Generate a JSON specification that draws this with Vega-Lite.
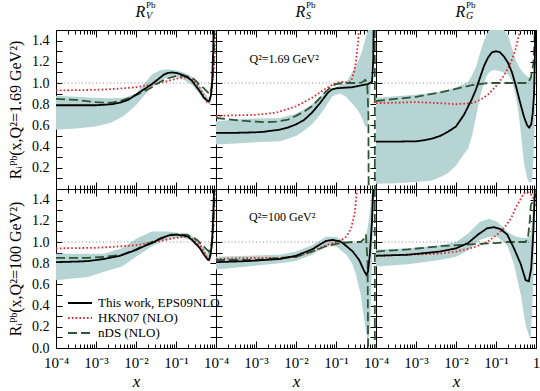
{
"$schema": "https://vega.github.io/schema/vega-lite/v6.json",
"padding": {"left": 6, "top": 0, "right": 0, "bottom": 0},
"config": {"font": "Liberation Serif", "view": {"stroke": "black", "strokeWidth": 1}, "axis": {"tickColor": "black", "labelColor": "black", "titleColor": "black", "tickWidth": 1, "domain": false, "grid": false}},
"datasets": {
"cur": [
{"r":"t","c":"V","s":"H","g":1,"x":0.0001,"y":0.93},{"r":"t","c":"V","s":"H","g":1,"x":0.001,"y":0.935},{"r":"t","c":"V","s":"H","g":1,"x":0.00316,"y":0.945},{"r":"t","c":"V","s":"H","g":1,"x":0.01,"y":0.96},{"r":"t","c":"V","s":"H","g":1,"x":0.02,"y":0.98},{"r":"t","c":"V","s":"H","g":1,"x":0.0398,"y":1.0},{"r":"t","c":"V","s":"H","g":1,"x":0.0631,"y":1.02},{"r":"t","c":"V","s":"H","g":1,"x":0.1,"y":1.04},{"r":"t","c":"V","s":"H","g":1,"x":0.141,"y":1.05},{"r":"t","c":"V","s":"H","g":1,"x":0.2,"y":1.05},{"r":"t","c":"V","s":"H","g":1,"x":0.251,"y":1.03},{"r":"t","c":"V","s":"H","g":1,"x":0.316,"y":1.0},{"r":"t","c":"V","s":"H","g":1,"x":0.398,"y":0.95},{"r":"t","c":"V","s":"H","g":1,"x":0.501,"y":0.88},{"r":"t","c":"V","s":"H","g":1,"x":0.603,"y":0.82},{"r":"t","c":"V","s":"H","g":1,"x":0.661,"y":0.81},{"r":"t","c":"V","s":"H","g":1,"x":0.741,"y":0.87},{"r":"t","c":"V","s":"H","g":1,"x":0.832,"y":1.0},{"r":"t","c":"V","s":"H","g":1,"x":0.891,"y":1.15},{"r":"t","c":"V","s":"H","g":1,"x":0.933,"y":1.3},{"r":"t","c":"V","s":"H","g":1,"x":0.977,"y":1.6},
{"r":"t","c":"V","s":"N","g":1,"x":0.0001,"y":0.85},{"r":"t","c":"V","s":"N","g":1,"x":0.000316,"y":0.84},{"r":"t","c":"V","s":"N","g":1,"x":0.001,"y":0.82},{"r":"t","c":"V","s":"N","g":1,"x":0.00158,"y":0.815},{"r":"t","c":"V","s":"N","g":1,"x":0.00251,"y":0.815},{"r":"t","c":"V","s":"N","g":1,"x":0.00398,"y":0.83},{"r":"t","c":"V","s":"N","g":1,"x":0.00631,"y":0.855},{"r":"t","c":"V","s":"N","g":1,"x":0.01,"y":0.885},{"r":"t","c":"V","s":"N","g":1,"x":0.0158,"y":0.92},{"r":"t","c":"V","s":"N","g":1,"x":0.0251,"y":0.96},{"r":"t","c":"V","s":"N","g":1,"x":0.0398,"y":1.01},{"r":"t","c":"V","s":"N","g":1,"x":0.0631,"y":1.045},{"r":"t","c":"V","s":"N","g":1,"x":0.1,"y":1.065},{"r":"t","c":"V","s":"N","g":1,"x":0.158,"y":1.07},{"r":"t","c":"V","s":"N","g":1,"x":0.251,"y":1.05},{"r":"t","c":"V","s":"N","g":1,"x":0.316,"y":1.02},{"r":"t","c":"V","s":"N","g":1,"x":0.398,"y":0.98},{"r":"t","c":"V","s":"N","g":1,"x":0.501,"y":0.95},{"r":"t","c":"V","s":"N","g":1,"x":0.631,"y":0.91},{"r":"t","c":"V","s":"N","g":1,"x":0.692,"y":0.9},{"r":"t","c":"V","s":"N","g":1,"x":0.759,"y":0.94},{"r":"t","c":"V","s":"N","g":1,"x":0.832,"y":1.05},{"r":"t","c":"V","s":"N","g":1,"x":0.891,"y":1.3},{"r":"t","c":"V","s":"N","g":1,"x":0.955,"y":2.0},
{"r":"t","c":"V","s":"E","g":1,"x":0.0001,"y":0.79},{"r":"t","c":"V","s":"E","g":1,"x":0.000316,"y":0.79},{"r":"t","c":"V","s":"E","g":1,"x":0.001,"y":0.79},{"r":"t","c":"V","s":"E","g":1,"x":0.00158,"y":0.795},{"r":"t","c":"V","s":"E","g":1,"x":0.00251,"y":0.8},{"r":"t","c":"V","s":"E","g":1,"x":0.00398,"y":0.815},{"r":"t","c":"V","s":"E","g":1,"x":0.00631,"y":0.84},{"r":"t","c":"V","s":"E","g":1,"x":0.01,"y":0.89},{"r":"t","c":"V","s":"E","g":1,"x":0.0158,"y":0.94},{"r":"t","c":"V","s":"E","g":1,"x":0.0251,"y":0.99},{"r":"t","c":"V","s":"E","g":1,"x":0.0398,"y":1.05},{"r":"t","c":"V","s":"E","g":1,"x":0.0501,"y":1.08},{"r":"t","c":"V","s":"E","g":1,"x":0.0631,"y":1.095},{"r":"t","c":"V","s":"E","g":1,"x":0.0794,"y":1.1},{"r":"t","c":"V","s":"E","g":1,"x":0.1,"y":1.095},{"r":"t","c":"V","s":"E","g":1,"x":0.126,"y":1.085},{"r":"t","c":"V","s":"E","g":1,"x":0.158,"y":1.07},{"r":"t","c":"V","s":"E","g":1,"x":0.2,"y":1.05},{"r":"t","c":"V","s":"E","g":1,"x":0.251,"y":1.02},{"r":"t","c":"V","s":"E","g":1,"x":0.316,"y":0.97},{"r":"t","c":"V","s":"E","g":1,"x":0.398,"y":0.92},{"r":"t","c":"V","s":"E","g":1,"x":0.501,"y":0.86},{"r":"t","c":"V","s":"E","g":1,"x":0.631,"y":0.83},{"r":"t","c":"V","s":"E","g":1,"x":0.692,"y":0.835},{"r":"t","c":"V","s":"E","g":1,"x":0.741,"y":0.88},{"r":"t","c":"V","s":"E","g":1,"x":0.794,"y":0.98},{"r":"t","c":"V","s":"E","g":1,"x":0.851,"y":1.3},{"r":"t","c":"V","s":"E","g":1,"x":0.912,"y":2.0},

{"r":"t","c":"S","s":"H","g":1,"x":0.0001,"y":0.69},{"r":"t","c":"S","s":"H","g":1,"x":0.000316,"y":0.695},{"r":"t","c":"S","s":"H","g":1,"x":0.001,"y":0.7},{"r":"t","c":"S","s":"H","g":1,"x":0.00316,"y":0.72},{"r":"t","c":"S","s":"H","g":1,"x":0.01,"y":0.78},{"r":"t","c":"S","s":"H","g":1,"x":0.0158,"y":0.82},{"r":"t","c":"S","s":"H","g":1,"x":0.0251,"y":0.86},{"r":"t","c":"S","s":"H","g":1,"x":0.0398,"y":0.91},{"r":"t","c":"S","s":"H","g":1,"x":0.0562,"y":0.95},{"r":"t","c":"S","s":"H","g":1,"x":0.0794,"y":0.98},{"r":"t","c":"S","s":"H","g":1,"x":0.1,"y":1.0},{"r":"t","c":"S","s":"H","g":1,"x":0.141,"y":1.01},{"r":"t","c":"S","s":"H","g":1,"x":0.2,"y":1.005},{"r":"t","c":"S","s":"H","g":1,"x":0.24,"y":1.02},{"r":"t","c":"S","s":"H","g":1,"x":0.282,"y":1.1},{"r":"t","c":"S","s":"H","g":1,"x":0.316,"y":1.2},{"r":"t","c":"S","s":"H","g":1,"x":0.355,"y":1.39},{"r":"t","c":"S","s":"H","g":1,"x":0.38,"y":1.55},
{"r":"t","c":"S","s":"N","g":1,"x":0.0001,"y":0.67},{"r":"t","c":"S","s":"N","g":1,"x":0.000316,"y":0.65},{"r":"t","c":"S","s":"N","g":1,"x":0.001,"y":0.635},{"r":"t","c":"S","s":"N","g":1,"x":0.00158,"y":0.63},{"r":"t","c":"S","s":"N","g":1,"x":0.00316,"y":0.635},{"r":"t","c":"S","s":"N","g":1,"x":0.00631,"y":0.655},{"r":"t","c":"S","s":"N","g":1,"x":0.01,"y":0.69},{"r":"t","c":"S","s":"N","g":1,"x":0.0158,"y":0.73},{"r":"t","c":"S","s":"N","g":1,"x":0.0251,"y":0.78},{"r":"t","c":"S","s":"N","g":1,"x":0.0398,"y":0.86},{"r":"t","c":"S","s":"N","g":1,"x":0.0562,"y":0.92},{"r":"t","c":"S","s":"N","g":1,"x":0.0794,"y":0.97},{"r":"t","c":"S","s":"N","g":1,"x":0.1,"y":0.99},{"r":"t","c":"S","s":"N","g":1,"x":0.158,"y":1.0},{"r":"t","c":"S","s":"N","g":1,"x":0.316,"y":1.0},{"r":"t","c":"S","s":"N","g":1,"x":0.447,"y":1.005},{"r":"t","c":"S","s":"N","g":1,"x":0.537,"y":1.03},{"r":"t","c":"S","s":"N","g":1,"x":0.603,"y":1.0},{"r":"t","c":"S","s":"N","g":1,"x":0.646,"y":0.7},{"r":"t","c":"S","s":"N","g":1,"x":0.661,"y":-0.5},
{"r":"t","c":"S","s":"N","g":2,"x":0.93,"y":2.0},{"r":"t","c":"S","s":"N","g":2,"x":0.94,"y":-1.0},
{"r":"t","c":"S","s":"E","g":1,"x":0.0001,"y":0.53},{"r":"t","c":"S","s":"E","g":1,"x":0.000316,"y":0.53},{"r":"t","c":"S","s":"E","g":1,"x":0.001,"y":0.535},{"r":"t","c":"S","s":"E","g":1,"x":0.00158,"y":0.54},{"r":"t","c":"S","s":"E","g":1,"x":0.00398,"y":0.56},{"r":"t","c":"S","s":"E","g":1,"x":0.00631,"y":0.58},{"r":"t","c":"S","s":"E","g":1,"x":0.01,"y":0.61},{"r":"t","c":"S","s":"E","g":1,"x":0.0158,"y":0.65},{"r":"t","c":"S","s":"E","g":1,"x":0.0251,"y":0.72},{"r":"t","c":"S","s":"E","g":1,"x":0.0398,"y":0.81},{"r":"t","c":"S","s":"E","g":1,"x":0.0501,"y":0.86},{"r":"t","c":"S","s":"E","g":1,"x":0.0631,"y":0.91},{"r":"t","c":"S","s":"E","g":1,"x":0.0794,"y":0.94},{"r":"t","c":"S","s":"E","g":1,"x":0.1,"y":0.95},{"r":"t","c":"S","s":"E","g":1,"x":0.158,"y":0.955},{"r":"t","c":"S","s":"E","g":1,"x":0.251,"y":0.96},{"r":"t","c":"S","s":"E","g":1,"x":0.398,"y":0.975},{"r":"t","c":"S","s":"E","g":1,"x":0.631,"y":0.99},{"r":"t","c":"S","s":"E","g":1,"x":0.794,"y":1.01},{"r":"t","c":"S","s":"E","g":1,"x":0.851,"y":1.2},{"r":"t","c":"S","s":"E","g":1,"x":0.891,"y":1.8},

{"r":"t","c":"G","s":"H","g":1,"x":0.0001,"y":0.81},{"r":"t","c":"G","s":"H","g":1,"x":0.001,"y":0.82},{"r":"t","c":"G","s":"H","g":1,"x":0.00398,"y":0.81},{"r":"t","c":"G","s":"H","g":1,"x":0.01,"y":0.8},{"r":"t","c":"G","s":"H","g":1,"x":0.0251,"y":0.81},{"r":"t","c":"G","s":"H","g":1,"x":0.0398,"y":0.84},{"r":"t","c":"G","s":"H","g":1,"x":0.0631,"y":0.89},{"r":"t","c":"G","s":"H","g":1,"x":0.1,"y":0.97},{"r":"t","c":"G","s":"H","g":1,"x":0.126,"y":1.02},{"r":"t","c":"G","s":"H","g":1,"x":0.158,"y":1.07},{"r":"t","c":"G","s":"H","g":1,"x":0.2,"y":1.14},{"r":"t","c":"G","s":"H","g":1,"x":0.251,"y":1.22},{"r":"t","c":"G","s":"H","g":1,"x":0.316,"y":1.33},{"r":"t","c":"G","s":"H","g":1,"x":0.355,"y":1.42},{"r":"t","c":"G","s":"H","g":1,"x":0.417,"y":1.52},{"r":"t","c":"G","s":"H","g":1,"x":0.501,"y":1.7},
{"r":"t","c":"G","s":"N","g":1,"x":0.0001,"y":0.83},{"r":"t","c":"G","s":"N","g":1,"x":0.001,"y":0.87},{"r":"t","c":"G","s":"N","g":1,"x":0.00398,"y":0.91},{"r":"t","c":"G","s":"N","g":1,"x":0.01,"y":0.945},{"r":"t","c":"G","s":"N","g":1,"x":0.0251,"y":0.98},{"r":"t","c":"G","s":"N","g":1,"x":0.0631,"y":1.0},{"r":"t","c":"G","s":"N","g":1,"x":0.251,"y":1.0},{"r":"t","c":"G","s":"N","g":1,"x":0.631,"y":1.0},{"r":"t","c":"G","s":"N","g":1,"x":0.741,"y":1.05},{"r":"t","c":"G","s":"N","g":1,"x":0.851,"y":1.17},{"r":"t","c":"G","s":"N","g":1,"x":0.912,"y":1.35},{"r":"t","c":"G","s":"N","g":1,"x":0.955,"y":1.7},
{"r":"t","c":"G","s":"E","g":1,"x":0.0001,"y":0.447},{"r":"t","c":"G","s":"E","g":1,"x":0.000316,"y":0.447},{"r":"t","c":"G","s":"E","g":1,"x":0.001,"y":0.45},{"r":"t","c":"G","s":"E","g":1,"x":0.00158,"y":0.46},{"r":"t","c":"G","s":"E","g":1,"x":0.00251,"y":0.475},{"r":"t","c":"G","s":"E","g":1,"x":0.00398,"y":0.5},{"r":"t","c":"G","s":"E","g":1,"x":0.00631,"y":0.54},{"r":"t","c":"G","s":"E","g":1,"x":0.01,"y":0.59},{"r":"t","c":"G","s":"E","g":1,"x":0.0158,"y":0.7},{"r":"t","c":"G","s":"E","g":1,"x":0.0251,"y":0.85},{"r":"t","c":"G","s":"E","g":1,"x":0.0316,"y":0.94},{"r":"t","c":"G","s":"E","g":1,"x":0.0398,"y":1.05},{"r":"t","c":"G","s":"E","g":1,"x":0.0501,"y":1.16},{"r":"t","c":"G","s":"E","g":1,"x":0.0631,"y":1.24},{"r":"t","c":"G","s":"E","g":1,"x":0.0794,"y":1.29},{"r":"t","c":"G","s":"E","g":1,"x":0.1,"y":1.3},{"r":"t","c":"G","s":"E","g":1,"x":0.126,"y":1.29},{"r":"t","c":"G","s":"E","g":1,"x":0.158,"y":1.25},{"r":"t","c":"G","s":"E","g":1,"x":0.2,"y":1.19},{"r":"t","c":"G","s":"E","g":1,"x":0.251,"y":1.1},{"r":"t","c":"G","s":"E","g":1,"x":0.316,"y":0.97},{"r":"t","c":"G","s":"E","g":1,"x":0.398,"y":0.82},{"r":"t","c":"G","s":"E","g":1,"x":0.501,"y":0.68},{"r":"t","c":"G","s":"E","g":1,"x":0.603,"y":0.6},{"r":"t","c":"G","s":"E","g":1,"x":0.676,"y":0.58},{"r":"t","c":"G","s":"E","g":1,"x":0.759,"y":0.61},{"r":"t","c":"G","s":"E","g":1,"x":0.832,"y":0.72},{"r":"t","c":"G","s":"E","g":1,"x":0.891,"y":0.89},{"r":"t","c":"G","s":"E","g":1,"x":0.933,"y":1.2},{"r":"t","c":"G","s":"E","g":1,"x":0.977,"y":1.8},

{"r":"b","c":"V","s":"H","g":1,"x":0.0001,"y":0.94},{"r":"b","c":"V","s":"H","g":1,"x":0.001,"y":0.945},{"r":"b","c":"V","s":"H","g":1,"x":0.00447,"y":0.96},{"r":"b","c":"V","s":"H","g":1,"x":0.01,"y":0.97},{"r":"b","c":"V","s":"H","g":1,"x":0.0282,"y":1.0},{"r":"b","c":"V","s":"H","g":1,"x":0.0741,"y":1.03},{"r":"b","c":"V","s":"H","g":1,"x":0.158,"y":1.05},{"r":"b","c":"V","s":"H","g":1,"x":0.2,"y":1.045},{"r":"b","c":"V","s":"H","g":1,"x":0.282,"y":1.02},{"r":"b","c":"V","s":"H","g":1,"x":0.398,"y":0.97},{"r":"b","c":"V","s":"H","g":1,"x":0.501,"y":0.91},{"r":"b","c":"V","s":"H","g":1,"x":0.631,"y":0.83},{"r":"b","c":"V","s":"H","g":1,"x":0.676,"y":0.82},{"r":"b","c":"V","s":"H","g":1,"x":0.741,"y":0.88},{"r":"b","c":"V","s":"H","g":1,"x":0.832,"y":1.05},{"r":"b","c":"V","s":"H","g":1,"x":0.891,"y":1.22},{"r":"b","c":"V","s":"H","g":1,"x":0.955,"y":1.6},
{"r":"b","c":"V","s":"N","g":1,"x":0.0001,"y":0.85},{"r":"b","c":"V","s":"N","g":1,"x":0.000631,"y":0.85},{"r":"b","c":"V","s":"N","g":1,"x":0.00158,"y":0.86},{"r":"b","c":"V","s":"N","g":1,"x":0.00447,"y":0.88},{"r":"b","c":"V","s":"N","g":1,"x":0.01,"y":0.93},{"r":"b","c":"V","s":"N","g":1,"x":0.0282,"y":1.01},{"r":"b","c":"V","s":"N","g":1,"x":0.0741,"y":1.07},{"r":"b","c":"V","s":"N","g":1,"x":0.191,"y":1.07},{"r":"b","c":"V","s":"N","g":1,"x":0.339,"y":1.02},{"r":"b","c":"V","s":"N","g":1,"x":0.55,"y":0.94},{"r":"b","c":"V","s":"N","g":1,"x":0.661,"y":0.91},{"r":"b","c":"V","s":"N","g":1,"x":0.794,"y":1.0},{"r":"b","c":"V","s":"N","g":1,"x":0.871,"y":1.2},{"r":"b","c":"V","s":"N","g":1,"x":0.933,"y":1.6},
{"r":"b","c":"V","s":"E","g":1,"x":0.0001,"y":0.81},{"r":"b","c":"V","s":"E","g":1,"x":0.000316,"y":0.815},{"r":"b","c":"V","s":"E","g":1,"x":0.000631,"y":0.82},{"r":"b","c":"V","s":"E","g":1,"x":0.00158,"y":0.84},{"r":"b","c":"V","s":"E","g":1,"x":0.00398,"y":0.87},{"r":"b","c":"V","s":"E","g":1,"x":0.01,"y":0.925},{"r":"b","c":"V","s":"E","g":1,"x":0.0158,"y":0.96},{"r":"b","c":"V","s":"E","g":1,"x":0.0251,"y":0.99},{"r":"b","c":"V","s":"E","g":1,"x":0.0398,"y":1.03},{"r":"b","c":"V","s":"E","g":1,"x":0.0631,"y":1.06},{"r":"b","c":"V","s":"E","g":1,"x":0.1,"y":1.07},{"r":"b","c":"V","s":"E","g":1,"x":0.158,"y":1.06},{"r":"b","c":"V","s":"E","g":1,"x":0.2,"y":1.05},{"r":"b","c":"V","s":"E","g":1,"x":0.251,"y":1.02},{"r":"b","c":"V","s":"E","g":1,"x":0.316,"y":0.98},{"r":"b","c":"V","s":"E","g":1,"x":0.398,"y":0.94},{"r":"b","c":"V","s":"E","g":1,"x":0.501,"y":0.88},{"r":"b","c":"V","s":"E","g":1,"x":0.603,"y":0.84},{"r":"b","c":"V","s":"E","g":1,"x":0.661,"y":0.83},{"r":"b","c":"V","s":"E","g":1,"x":0.708,"y":0.86},{"r":"b","c":"V","s":"E","g":1,"x":0.794,"y":0.98},{"r":"b","c":"V","s":"E","g":1,"x":0.832,"y":1.16},{"r":"b","c":"V","s":"E","g":1,"x":0.891,"y":1.47},{"r":"b","c":"V","s":"E","g":1,"x":0.933,"y":1.9},

{"r":"b","c":"S","s":"H","g":1,"x":0.0001,"y":0.84},{"r":"b","c":"S","s":"H","g":1,"x":0.001,"y":0.85},{"r":"b","c":"S","s":"H","g":1,"x":0.00398,"y":0.85},{"r":"b","c":"S","s":"H","g":1,"x":0.01,"y":0.86},{"r":"b","c":"S","s":"H","g":1,"x":0.0251,"y":0.91},{"r":"b","c":"S","s":"H","g":1,"x":0.0562,"y":0.97},{"r":"b","c":"S","s":"H","g":1,"x":0.126,"y":1.01},{"r":"b","c":"S","s":"H","g":1,"x":0.182,"y":1.05},{"r":"b","c":"S","s":"H","g":1,"x":0.24,"y":1.13},{"r":"b","c":"S","s":"H","g":1,"x":0.295,"y":1.28},{"r":"b","c":"S","s":"H","g":1,"x":0.331,"y":1.47},{"r":"b","c":"S","s":"H","g":1,"x":0.355,"y":1.6},
{"r":"b","c":"S","s":"N","g":1,"x":0.0001,"y":0.83},{"r":"b","c":"S","s":"N","g":1,"x":0.001,"y":0.83},{"r":"b","c":"S","s":"N","g":1,"x":0.00398,"y":0.85},{"r":"b","c":"S","s":"N","g":1,"x":0.01,"y":0.86},{"r":"b","c":"S","s":"N","g":1,"x":0.0251,"y":0.91},{"r":"b","c":"S","s":"N","g":1,"x":0.0562,"y":0.96},{"r":"b","c":"S","s":"N","g":1,"x":0.126,"y":0.99},{"r":"b","c":"S","s":"N","g":1,"x":0.263,"y":1.0},{"r":"b","c":"S","s":"N","g":1,"x":0.417,"y":1.0},{"r":"b","c":"S","s":"N","g":1,"x":0.501,"y":1.03},{"r":"b","c":"S","s":"N","g":1,"x":0.562,"y":1.07},{"r":"b","c":"S","s":"N","g":1,"x":0.617,"y":0.8},{"r":"b","c":"S","s":"N","g":1,"x":0.646,"y":-0.5},
{"r":"b","c":"S","s":"N","g":2,"x":0.93,"y":2.0},{"r":"b","c":"S","s":"N","g":2,"x":0.94,"y":-1.0},
{"r":"b","c":"S","s":"E","g":1,"x":0.0001,"y":0.81},{"r":"b","c":"S","s":"E","g":1,"x":0.000631,"y":0.82},{"r":"b","c":"S","s":"E","g":1,"x":0.00398,"y":0.84},{"r":"b","c":"S","s":"E","g":1,"x":0.01,"y":0.87},{"r":"b","c":"S","s":"E","g":1,"x":0.0251,"y":0.93},{"r":"b","c":"S","s":"E","g":1,"x":0.0562,"y":1.01},{"r":"b","c":"S","s":"E","g":1,"x":0.0832,"y":1.02},{"r":"b","c":"S","s":"E","g":1,"x":0.126,"y":1.005},{"r":"b","c":"S","s":"E","g":1,"x":0.148,"y":0.99},{"r":"b","c":"S","s":"E","g":1,"x":0.263,"y":0.91},{"r":"b","c":"S","s":"E","g":1,"x":0.38,"y":0.83},{"r":"b","c":"S","s":"E","g":1,"x":0.501,"y":0.73},{"r":"b","c":"S","s":"E","g":1,"x":0.575,"y":0.69},{"r":"b","c":"S","s":"E","g":1,"x":0.631,"y":0.72},{"r":"b","c":"S","s":"E","g":1,"x":0.708,"y":0.9},{"r":"b","c":"S","s":"E","g":1,"x":0.794,"y":1.2},{"r":"b","c":"S","s":"E","g":1,"x":0.871,"y":1.6},

{"r":"b","c":"G","s":"H","g":1,"x":0.0001,"y":0.87},{"r":"b","c":"G","s":"H","g":1,"x":0.000631,"y":0.88},{"r":"b","c":"G","s":"H","g":1,"x":0.00398,"y":0.89},{"r":"b","c":"G","s":"H","g":1,"x":0.01,"y":0.91},{"r":"b","c":"G","s":"H","g":1,"x":0.0282,"y":0.95},{"r":"b","c":"G","s":"H","g":1,"x":0.0603,"y":1.0},{"r":"b","c":"G","s":"H","g":1,"x":0.107,"y":1.07},{"r":"b","c":"G","s":"H","g":1,"x":0.158,"y":1.13},{"r":"b","c":"G","s":"H","g":1,"x":0.234,"y":1.22},{"r":"b","c":"G","s":"H","g":1,"x":0.339,"y":1.35},{"r":"b","c":"G","s":"H","g":1,"x":0.501,"y":1.46},{"r":"b","c":"G","s":"H","g":1,"x":0.631,"y":1.47},{"r":"b","c":"G","s":"H","g":1,"x":0.794,"y":1.44},{"r":"b","c":"G","s":"H","g":1,"x":0.891,"y":1.4},{"r":"b","c":"G","s":"H","g":1,"x":1.0,"y":1.33},
{"r":"b","c":"G","s":"N","g":1,"x":0.0001,"y":0.91},{"r":"b","c":"G","s":"N","g":1,"x":0.000631,"y":0.93},{"r":"b","c":"G","s":"N","g":1,"x":0.00398,"y":0.96},{"r":"b","c":"G","s":"N","g":1,"x":0.0282,"y":0.98},{"r":"b","c":"G","s":"N","g":1,"x":0.1,"y":0.99},{"r":"b","c":"G","s":"N","g":1,"x":0.2,"y":1.0},{"r":"b","c":"G","s":"N","g":1,"x":0.55,"y":1.0},{"r":"b","c":"G","s":"N","g":1,"x":0.631,"y":1.04},{"r":"b","c":"G","s":"N","g":1,"x":0.708,"y":1.22},{"r":"b","c":"G","s":"N","g":1,"x":0.741,"y":1.35},{"r":"b","c":"G","s":"N","g":1,"x":0.891,"y":1.4},{"r":"b","c":"G","s":"N","g":1,"x":1.0,"y":1.45},
{"r":"b","c":"G","s":"E","g":1,"x":0.0001,"y":0.87},{"r":"b","c":"G","s":"E","g":1,"x":0.000631,"y":0.88},{"r":"b","c":"G","s":"E","g":1,"x":0.00398,"y":0.91},{"r":"b","c":"G","s":"E","g":1,"x":0.01,"y":0.94},{"r":"b","c":"G","s":"E","g":1,"x":0.02,"y":0.99},{"r":"b","c":"G","s":"E","g":1,"x":0.0355,"y":1.07},{"r":"b","c":"G","s":"E","g":1,"x":0.0603,"y":1.13},{"r":"b","c":"G","s":"E","g":1,"x":0.0891,"y":1.14},{"r":"b","c":"G","s":"E","g":1,"x":0.132,"y":1.12},{"r":"b","c":"G","s":"E","g":1,"x":0.191,"y":1.07},{"r":"b","c":"G","s":"E","g":1,"x":0.282,"y":0.94},{"r":"b","c":"G","s":"E","g":1,"x":0.417,"y":0.79},{"r":"b","c":"G","s":"E","g":1,"x":0.55,"y":0.64},{"r":"b","c":"G","s":"E","g":1,"x":0.661,"y":0.63},{"r":"b","c":"G","s":"E","g":1,"x":0.759,"y":0.75},{"r":"b","c":"G","s":"E","g":1,"x":0.851,"y":1.07},{"r":"b","c":"G","s":"E","g":1,"x":0.933,"y":1.47},{"r":"b","c":"G","s":"E","g":1,"x":0.977,"y":1.9}
],
"bd": [
{"r":"t","c":"V","x":0.0001,"lo":0.56,"hi":0.88},{"r":"t","c":"V","x":0.000316,"lo":0.57,"hi":0.87},{"r":"t","c":"V","x":0.001,"lo":0.59,"hi":0.86},{"r":"t","c":"V","x":0.00251,"lo":0.63,"hi":0.855},{"r":"t","c":"V","x":0.00501,"lo":0.69,"hi":0.86},{"r":"t","c":"V","x":0.01,"lo":0.79,"hi":0.9},{"r":"t","c":"V","x":0.0158,"lo":0.88,"hi":0.99},{"r":"t","c":"V","x":0.0251,"lo":0.96,"hi":1.08},{"r":"t","c":"V","x":0.0398,"lo":1.02,"hi":1.12},{"r":"t","c":"V","x":0.0631,"lo":1.06,"hi":1.13},{"r":"t","c":"V","x":0.1,"lo":1.06,"hi":1.12},{"r":"t","c":"V","x":0.158,"lo":1.03,"hi":1.1},{"r":"t","c":"V","x":0.251,"lo":0.98,"hi":1.06},{"r":"t","c":"V","x":0.398,"lo":0.89,"hi":0.97},{"r":"t","c":"V","x":0.501,"lo":0.84,"hi":0.91},{"r":"t","c":"V","x":0.631,"lo":0.8,"hi":0.86},{"r":"t","c":"V","x":0.708,"lo":0.81,"hi":0.88},{"r":"t","c":"V","x":0.794,"lo":0.88,"hi":1.02},{"r":"t","c":"V","x":0.851,"lo":1.15,"hi":1.45},{"r":"t","c":"V","x":0.912,"lo":1.6,"hi":2.2},
{"r":"t","c":"S","x":0.0001,"lo":0.42,"hi":0.64},{"r":"t","c":"S","x":0.000316,"lo":0.43,"hi":0.655},{"r":"t","c":"S","x":0.001,"lo":0.44,"hi":0.665},{"r":"t","c":"S","x":0.00398,"lo":0.45,"hi":0.67},{"r":"t","c":"S","x":0.01,"lo":0.5,"hi":0.71},{"r":"t","c":"S","x":0.0158,"lo":0.55,"hi":0.75},{"r":"t","c":"S","x":0.0251,"lo":0.61,"hi":0.8},{"r":"t","c":"S","x":0.0398,"lo":0.7,"hi":0.87},{"r":"t","c":"S","x":0.0562,"lo":0.78,"hi":0.91},{"r":"t","c":"S","x":0.0794,"lo":0.87,"hi":0.94},{"r":"t","c":"S","x":0.1,"lo":0.89,"hi":0.96},{"r":"t","c":"S","x":0.126,"lo":0.9,"hi":0.98},{"r":"t","c":"S","x":0.178,"lo":0.87,"hi":1.0},{"r":"t","c":"S","x":0.251,"lo":0.81,"hi":1.1},{"r":"t","c":"S","x":0.355,"lo":0.74,"hi":1.2},{"r":"t","c":"S","x":0.447,"lo":0.67,"hi":1.3},{"r":"t","c":"S","x":0.525,"lo":0.6,"hi":1.4},{"r":"t","c":"S","x":0.575,"lo":0.58,"hi":1.45},{"r":"t","c":"S","x":0.631,"lo":0.62,"hi":1.5},{"r":"t","c":"S","x":0.708,"lo":0.85,"hi":1.6},{"r":"t","c":"S","x":0.794,"lo":1.2,"hi":1.8},{"r":"t","c":"S","x":0.891,"lo":1.6,"hi":2.0},
{"r":"t","c":"G","x":0.0001,"lo":0.05,"hi":0.86},{"r":"t","c":"G","x":0.000316,"lo":0.055,"hi":0.875},{"r":"t","c":"G","x":0.001,"lo":0.065,"hi":0.89},{"r":"t","c":"G","x":0.00251,"lo":0.08,"hi":0.905},{"r":"t","c":"G","x":0.00398,"lo":0.11,"hi":0.92},{"r":"t","c":"G","x":0.00631,"lo":0.15,"hi":0.935},{"r":"t","c":"G","x":0.01,"lo":0.22,"hi":0.96},{"r":"t","c":"G","x":0.0158,"lo":0.33,"hi":0.99},{"r":"t","c":"G","x":0.02,"lo":0.38,"hi":1.01},{"r":"t","c":"G","x":0.0251,"lo":0.5,"hi":1.07},{"r":"t","c":"G","x":0.0316,"lo":0.68,"hi":1.15},{"r":"t","c":"G","x":0.0398,"lo":0.87,"hi":1.28},{"r":"t","c":"G","x":0.0501,"lo":1.0,"hi":1.4},{"r":"t","c":"G","x":0.0631,"lo":1.09,"hi":1.48},{"r":"t","c":"G","x":0.0794,"lo":1.12,"hi":1.53},{"r":"t","c":"G","x":0.1,"lo":1.12,"hi":1.55},{"r":"t","c":"G","x":0.126,"lo":1.11,"hi":1.54},{"r":"t","c":"G","x":0.158,"lo":1.1,"hi":1.5},{"r":"t","c":"G","x":0.2,"lo":1.08,"hi":1.45},{"r":"t","c":"G","x":0.251,"lo":1.02,"hi":1.33},{"r":"t","c":"G","x":0.316,"lo":0.86,"hi":1.21},{"r":"t","c":"G","x":0.355,"lo":0.75,"hi":1.17},{"r":"t","c":"G","x":0.398,"lo":0.6,"hi":1.14},{"r":"t","c":"G","x":0.447,"lo":0.42,"hi":1.11},{"r":"t","c":"G","x":0.501,"lo":0.25,"hi":1.09},{"r":"t","c":"G","x":0.562,"lo":0.15,"hi":1.07},{"r":"t","c":"G","x":0.631,"lo":0.08,"hi":1.06},{"r":"t","c":"G","x":0.708,"lo":0.06,"hi":1.05},{"r":"t","c":"G","x":0.794,"lo":0.07,"hi":1.06},{"r":"t","c":"G","x":0.871,"lo":0.3,"hi":1.1},{"r":"t","c":"G","x":0.933,"lo":0.7,"hi":1.4},{"r":"t","c":"G","x":0.977,"lo":1.3,"hi":2.0},
{"r":"b","c":"V","x":0.0001,"lo":0.64,"hi":0.89},{"r":"b","c":"V","x":0.000631,"lo":0.67,"hi":0.89},{"r":"b","c":"V","x":0.00158,"lo":0.72,"hi":0.89},{"r":"b","c":"V","x":0.00447,"lo":0.77,"hi":0.94},{"r":"b","c":"V","x":0.01,"lo":0.86,"hi":1.03},{"r":"b","c":"V","x":0.0251,"lo":0.96,"hi":1.1},{"r":"b","c":"V","x":0.0631,"lo":1.03,"hi":1.1},{"r":"b","c":"V","x":0.158,"lo":1.04,"hi":1.08},{"r":"b","c":"V","x":0.316,"lo":0.99,"hi":1.04},{"r":"b","c":"V","x":0.501,"lo":0.89,"hi":0.94},{"r":"b","c":"V","x":0.603,"lo":0.83,"hi":0.89},{"r":"b","c":"V","x":0.708,"lo":0.84,"hi":0.92},{"r":"b","c":"V","x":0.794,"lo":0.95,"hi":1.02},{"r":"b","c":"V","x":0.871,"lo":1.3,"hi":1.4},{"r":"b","c":"V","x":0.933,"lo":1.8,"hi":1.9},
{"r":"b","c":"S","x":0.0001,"lo":0.74,"hi":0.86},{"r":"b","c":"S","x":0.000631,"lo":0.77,"hi":0.87},{"r":"b","c":"S","x":0.00398,"lo":0.8,"hi":0.88},{"r":"b","c":"S","x":0.01,"lo":0.82,"hi":0.91},{"r":"b","c":"S","x":0.0251,"lo":0.88,"hi":0.97},{"r":"b","c":"S","x":0.0562,"lo":0.96,"hi":1.05},{"r":"b","c":"S","x":0.1,"lo":0.96,"hi":1.05},{"r":"b","c":"S","x":0.182,"lo":0.88,"hi":1.0},{"r":"b","c":"S","x":0.251,"lo":0.8,"hi":0.99},{"r":"b","c":"S","x":0.316,"lo":0.69,"hi":0.99},{"r":"b","c":"S","x":0.417,"lo":0.5,"hi":1.0},{"r":"b","c":"S","x":0.501,"lo":0.28,"hi":1.01},{"r":"b","c":"S","x":0.562,"lo":0.15,"hi":1.07},{"r":"b","c":"S","x":0.631,"lo":0.06,"hi":1.15},{"r":"b","c":"S","x":0.708,"lo":0.2,"hi":1.3},{"r":"b","c":"S","x":0.794,"lo":0.8,"hi":1.5},{"r":"b","c":"S","x":0.891,"lo":1.5,"hi":2.0},
{"r":"b","c":"G","x":0.0001,"lo":0.77,"hi":0.93},{"r":"b","c":"G","x":0.000631,"lo":0.79,"hi":0.94},{"r":"b","c":"G","x":0.00398,"lo":0.83,"hi":0.97},{"r":"b","c":"G","x":0.01,"lo":0.86,"hi":1.0},{"r":"b","c":"G","x":0.02,"lo":0.92,"hi":1.08},{"r":"b","c":"G","x":0.0398,"lo":1.02,"hi":1.19},{"r":"b","c":"G","x":0.0676,"lo":1.05,"hi":1.22},{"r":"b","c":"G","x":0.107,"lo":1.05,"hi":1.19},{"r":"b","c":"G","x":0.191,"lo":0.97,"hi":1.1},{"r":"b","c":"G","x":0.282,"lo":0.79,"hi":1.06},{"r":"b","c":"G","x":0.417,"lo":0.5,"hi":1.04},{"r":"b","c":"G","x":0.55,"lo":0.22,"hi":1.04},{"r":"b","c":"G","x":0.661,"lo":0.12,"hi":1.04},{"r":"b","c":"G","x":0.741,"lo":0.1,"hi":1.07},{"r":"b","c":"G","x":0.851,"lo":0.6,"hi":1.35},{"r":"b","c":"G","x":0.933,"lo":1.3,"hi":1.7}
]
},
"columns": 3,
"spacing": 0,
"bounds": "flush",
"resolve": {"legend": {"color": "independent", "strokeDash": "independent"}},
"concat": [
 {"width": 160, "height": 159,
  "title": {"text": "Pb", "subtitle": "V", "fontSize": 9, "fontWeight": "normal", "subtitleFontSize": 10, "subtitleFontStyle": "italic", "subtitlePadding": 1, "anchor": "middle", "frame": "group", "align": "left", "dx": 10, "dy": 18, "offset": 0},
  "layer": [
  {"data": {"name": "bd"}, "transform": [{"filter": "datum.r=='t' && datum.c=='V'"}], "mark": {"type": "area", "color": "#b6d4d4", "clip": true},
   "encoding": {"x": {"field": "x", "type": "quantitative", "scale": {"type": "log", "domain": [0.0001, 1], "nice": false}, "axis": {"orient": "bottom", "values": [0.0001,0.0002,0.0003,0.0004,0.0005,0.0006,0.0007,0.0008,0.0009,0.001,0.002,0.003,0.004,0.005,0.006,0.007,0.008,0.009,0.01,0.02,0.03,0.04,0.05,0.06,0.07,0.08,0.09,0.1,0.2,0.3,0.4,0.5,0.6,0.7,0.8,0.9,1], "labels": false, "title": null, "tickSize": {"condition": {"test": "indexof([0.0001,0.001,0.01,0.1,1], datum.value) >= 0", "value": -7}, "value": -4}}},
     "y": {"field": "lo", "type": "quantitative", "scale": {"domain": [0, 1.5], "nice": false, "zero": false}, "axis": {"orient": "left", "values": [0,0.1,0.2,0.3,0.4,0.5,0.6,0.7,0.8,0.9,1,1.1,1.2,1.3,1.4,1.5], "tickSize": -6, "labelExpr": "datum.value > 0.05 && datum.value < 1.45 && round(datum.value*10) % 2 == 0 ? format(datum.value, '.1f') : ''", "labelFontSize": 14, "labelPadding": 13, "labelOverlap": false, "title": "Rᵢᴾᵇ(x,Q²=1.69 GeV²)", "titleFontSize": 16, "titleFontWeight": "normal", "titlePadding": 8}},
     "y2": {"field": "hi"}}},
  {"data": {"values": [{"ref": 1}]}, "mark": {"type": "rule", "color": "#8a8a8a", "strokeDash": [1, 2.5], "strokeWidth": 1}, "encoding": {"y": {"field": "ref", "type": "quantitative", "axis": null}}},
  {"data": {"name": "cur"}, "transform": [{"filter": "datum.r=='t' && datum.c=='V'"}], "mark": {"type": "line", "clip": true, "strokeWidth": 1.8},
   "encoding": {"x": {"field": "x", "type": "quantitative", "axis": {"orient": "top", "values": [0.0001,0.0002,0.0003,0.0004,0.0005,0.0006,0.0007,0.0008,0.0009,0.001,0.002,0.003,0.004,0.005,0.006,0.007,0.008,0.009,0.01,0.02,0.03,0.04,0.05,0.06,0.07,0.08,0.09,0.1,0.2,0.3,0.4,0.5,0.6,0.7,0.8,0.9,1], "labels": false, "tickSize": {"condition": {"test": "indexof([0.0001,0.001,0.01,0.1,1], datum.value) >= 0", "value": -7}, "value": -4}, "title": "R", "titleFontStyle": "italic", "titleFontSize": 16, "titleFontWeight": "normal", "titleX": 79, "titleY": -14, "titleAlign": "left", "titleBaseline": "alphabetic"}},
     "y": {"field": "y", "type": "quantitative", "axis": {"orient": "right", "values": [0,0.1,0.2,0.3,0.4,0.5,0.6,0.7,0.8,0.9,1,1.1,1.2,1.3,1.4,1.5], "labels": false, "tickSize": -6, "title": null}},
     "color": {"field": "s", "type": "nominal", "scale": {"domain": ["E","H","N"], "range": ["#000000","#e3262a","#2f5634"]}, "legend": null},
     "strokeDash": {"field": "s", "type": "nominal", "scale": {"domain": ["E","H","N"], "range": [[1,0],[1.6,2.2],[9,4]]}, "legend": null},
     "detail": {"field": "g"}}}
  ],
  "resolve": {"axis": {"x": "independent", "y": "independent"}}},
 {"width": 160, "height": 159,
  "title": {"text": "Pb", "subtitle": "S", "fontSize": 9, "fontWeight": "normal", "subtitleFontSize": 10, "subtitleFontStyle": "italic", "subtitlePadding": 1, "anchor": "middle", "frame": "group", "align": "left", "dx": 10, "dy": 18, "offset": 0},
  "layer": [
  {"data": {"name": "bd"}, "transform": [{"filter": "datum.r=='t' && datum.c=='S'"}], "mark": {"type": "area", "color": "#b6d4d4", "clip": true},
   "encoding": {"x": {"field": "x", "type": "quantitative", "scale": {"type": "log", "domain": [0.0001, 1], "nice": false}, "axis": {"orient": "bottom", "values": [0.0001,0.0002,0.0003,0.0004,0.0005,0.0006,0.0007,0.0008,0.0009,0.001,0.002,0.003,0.004,0.005,0.006,0.007,0.008,0.009,0.01,0.02,0.03,0.04,0.05,0.06,0.07,0.08,0.09,0.1,0.2,0.3,0.4,0.5,0.6,0.7,0.8,0.9,1], "labels": false, "title": null, "tickSize": {"condition": {"test": "indexof([0.0001,0.001,0.01,0.1,1], datum.value) >= 0", "value": -7}, "value": -4}}},
     "y": {"field": "lo", "type": "quantitative", "scale": {"domain": [0, 1.5], "nice": false, "zero": false}, "axis": {"orient": "left", "values": [0,0.1,0.2,0.3,0.4,0.5,0.6,0.7,0.8,0.9,1,1.1,1.2,1.3,1.4,1.5], "tickSize": -6, "labels": false, "title": null}},
     "y2": {"field": "hi"}}},
  {"data": {"values": [{"ref": 1}]}, "mark": {"type": "rule", "color": "#8a8a8a", "strokeDash": [1, 2.5], "strokeWidth": 1}, "encoding": {"y": {"field": "ref", "type": "quantitative", "axis": null}}},
  {"data": {"name": "cur"}, "transform": [{"filter": "datum.r=='t' && datum.c=='S'"}], "mark": {"type": "line", "clip": true, "strokeWidth": 1.8},
   "encoding": {"x": {"field": "x", "type": "quantitative", "axis": {"orient": "top", "values": [0.0001,0.0002,0.0003,0.0004,0.0005,0.0006,0.0007,0.0008,0.0009,0.001,0.002,0.003,0.004,0.005,0.006,0.007,0.008,0.009,0.01,0.02,0.03,0.04,0.05,0.06,0.07,0.08,0.09,0.1,0.2,0.3,0.4,0.5,0.6,0.7,0.8,0.9,1], "labels": false, "tickSize": {"condition": {"test": "indexof([0.0001,0.001,0.01,0.1,1], datum.value) >= 0", "value": -7}, "value": -4}, "title": "R", "titleFontStyle": "italic", "titleFontSize": 16, "titleFontWeight": "normal", "titleX": 79, "titleY": -14, "titleAlign": "left", "titleBaseline": "alphabetic"}},
     "y": {"field": "y", "type": "quantitative", "axis": {"orient": "right", "values": [0,0.1,0.2,0.3,0.4,0.5,0.6,0.7,0.8,0.9,1,1.1,1.2,1.3,1.4,1.5], "labels": false, "tickSize": -6, "title": null}},
     "color": {"field": "s", "type": "nominal", "scale": {"domain": ["E","H","N"], "range": ["#000000","#e3262a","#2f5634"]}, "legend": null},
     "strokeDash": {"field": "s", "type": "nominal", "scale": {"domain": ["E","H","N"], "range": [[1,0],[1.6,2.2],[9,4]]}, "legend": null},
     "detail": {"field": "g"}}},
  {"data": {"values": [{"label": "Q²=1.69 GeV²"}]}, "mark": {"type": "text", "align": "left", "baseline": "middle", "fontSize": 12},
   "encoding": {"text": {"field": "label"}, "x": {"datum": 0.00069, "type": "quantitative", "axis": null}, "y": {"datum": 1.23, "type": "quantitative", "axis": null}}}
  ],
  "resolve": {"axis": {"x": "independent", "y": "independent"}}},
 {"width": 160, "height": 159,
  "title": {"text": "Pb", "subtitle": "G", "fontSize": 9, "fontWeight": "normal", "subtitleFontSize": 10, "subtitleFontStyle": "italic", "subtitlePadding": 1, "anchor": "middle", "frame": "group", "align": "left", "dx": 10, "dy": 18, "offset": 0},
  "layer": [
  {"data": {"name": "bd"}, "transform": [{"filter": "datum.r=='t' && datum.c=='G'"}], "mark": {"type": "area", "color": "#b6d4d4", "clip": true},
   "encoding": {"x": {"field": "x", "type": "quantitative", "scale": {"type": "log", "domain": [0.0001, 1], "nice": false}, "axis": {"orient": "bottom", "values": [0.0001,0.0002,0.0003,0.0004,0.0005,0.0006,0.0007,0.0008,0.0009,0.001,0.002,0.003,0.004,0.005,0.006,0.007,0.008,0.009,0.01,0.02,0.03,0.04,0.05,0.06,0.07,0.08,0.09,0.1,0.2,0.3,0.4,0.5,0.6,0.7,0.8,0.9,1], "labels": false, "title": null, "tickSize": {"condition": {"test": "indexof([0.0001,0.001,0.01,0.1,1], datum.value) >= 0", "value": -7}, "value": -4}}},
     "y": {"field": "lo", "type": "quantitative", "scale": {"domain": [0, 1.5], "nice": false, "zero": false}, "axis": {"orient": "left", "values": [0,0.1,0.2,0.3,0.4,0.5,0.6,0.7,0.8,0.9,1,1.1,1.2,1.3,1.4,1.5], "tickSize": -6, "labels": false, "title": null}},
     "y2": {"field": "hi"}}},
  {"data": {"values": [{"ref": 1}]}, "mark": {"type": "rule", "color": "#8a8a8a", "strokeDash": [1, 2.5], "strokeWidth": 1}, "encoding": {"y": {"field": "ref", "type": "quantitative", "axis": null}}},
  {"data": {"name": "cur"}, "transform": [{"filter": "datum.r=='t' && datum.c=='G'"}], "mark": {"type": "line", "clip": true, "strokeWidth": 1.8},
   "encoding": {"x": {"field": "x", "type": "quantitative", "axis": {"orient": "top", "values": [0.0001,0.0002,0.0003,0.0004,0.0005,0.0006,0.0007,0.0008,0.0009,0.001,0.002,0.003,0.004,0.005,0.006,0.007,0.008,0.009,0.01,0.02,0.03,0.04,0.05,0.06,0.07,0.08,0.09,0.1,0.2,0.3,0.4,0.5,0.6,0.7,0.8,0.9,1], "labels": false, "tickSize": {"condition": {"test": "indexof([0.0001,0.001,0.01,0.1,1], datum.value) >= 0", "value": -7}, "value": -4}, "title": "R", "titleFontStyle": "italic", "titleFontSize": 16, "titleFontWeight": "normal", "titleX": 79, "titleY": -14, "titleAlign": "left", "titleBaseline": "alphabetic"}},
     "y": {"field": "y", "type": "quantitative", "axis": {"orient": "right", "values": [0,0.1,0.2,0.3,0.4,0.5,0.6,0.7,0.8,0.9,1,1.1,1.2,1.3,1.4,1.5], "labels": false, "tickSize": -6, "title": null}},
     "color": {"field": "s", "type": "nominal", "scale": {"domain": ["E","H","N"], "range": ["#000000","#e3262a","#2f5634"]}, "legend": null},
     "strokeDash": {"field": "s", "type": "nominal", "scale": {"domain": ["E","H","N"], "range": [[1,0],[1.6,2.2],[9,4]]}, "legend": null},
     "detail": {"field": "g"}}}
  ],
  "resolve": {"axis": {"x": "independent", "y": "independent"}}},
 {"width": 160, "height": 159,
  "layer": [
  {"data": {"name": "bd"}, "transform": [{"filter": "datum.r=='b' && datum.c=='V'"}], "mark": {"type": "area", "color": "#b6d4d4", "clip": true},
   "encoding": {"x": {"field": "x", "type": "quantitative", "scale": {"type": "log", "domain": [0.0001, 1], "nice": false}, "axis": {"orient": "bottom", "values": [0.0001,0.0002,0.0003,0.0004,0.0005,0.0006,0.0007,0.0008,0.0009,0.001,0.002,0.003,0.004,0.005,0.006,0.007,0.008,0.009,0.01,0.02,0.03,0.04,0.05,0.06,0.07,0.08,0.09,0.1,0.2,0.3,0.4,0.5,0.6,0.7,0.8,0.9,1], "labelExpr": "datum.value==0.0001 ? '10⁻⁴' : datum.value==0.001 ? '10⁻³' : datum.value==0.01 ? '10⁻²' : datum.value==0.1 ? '10⁻¹' : ''", "labelOverlap": false, "labelFlush": false, "labelFontSize": 15, "labelPadding": 14, "title": "x", "titleFontStyle": "italic", "titleFontSize": 17, "titleFontWeight": "normal", "titlePadding": 0, "tickSize": {"condition": {"test": "indexof([0.0001,0.001,0.01,0.1,1], datum.value) >= 0", "value": -7}, "value": -4}}},
     "y": {"field": "lo", "type": "quantitative", "scale": {"domain": [0, 1.5], "nice": false, "zero": false}, "axis": {"orient": "left", "values": [0,0.1,0.2,0.3,0.4,0.5,0.6,0.7,0.8,0.9,1,1.1,1.2,1.3,1.4,1.5], "tickSize": -6, "labelExpr": "datum.value < 1.45 && round(datum.value*10) % 2 == 0 ? format(datum.value, '.1f') : ''", "labelFontSize": 14, "labelPadding": 13, "labelOverlap": false, "title": "Rᵢᴾᵇ(x,Q²=100 GeV²)", "titleFontSize": 16, "titleFontWeight": "normal", "titlePadding": 8}},
     "y2": {"field": "hi"}}},
  {"data": {"values": [{"ref": 1}]}, "mark": {"type": "rule", "color": "#8a8a8a", "strokeDash": [1, 2.5], "strokeWidth": 1}, "encoding": {"y": {"field": "ref", "type": "quantitative", "axis": null}}},
  {"data": {"name": "cur"}, "transform": [{"filter": "datum.r=='b' && datum.c=='V'"}], "mark": {"type": "line", "clip": true, "strokeWidth": 1.8},
   "encoding": {"x": {"field": "x", "type": "quantitative", "axis": {"orient": "top", "values": [0.0001,0.0002,0.0003,0.0004,0.0005,0.0006,0.0007,0.0008,0.0009,0.001,0.002,0.003,0.004,0.005,0.006,0.007,0.008,0.009,0.01,0.02,0.03,0.04,0.05,0.06,0.07,0.08,0.09,0.1,0.2,0.3,0.4,0.5,0.6,0.7,0.8,0.9,1], "labels": false, "tickSize": {"condition": {"test": "indexof([0.0001,0.001,0.01,0.1,1], datum.value) >= 0", "value": -7}, "value": -4}, "title": null}},
     "y": {"field": "y", "type": "quantitative", "axis": {"orient": "right", "values": [0,0.1,0.2,0.3,0.4,0.5,0.6,0.7,0.8,0.9,1,1.1,1.2,1.3,1.4,1.5], "labels": false, "tickSize": -6, "title": null}},
     "color": {"field": "s", "type": "nominal", "scale": {"domain": ["E","H","N"], "range": ["#000000","#e3262a","#2f5634"]}, "legend": {"title": null, "orient": "none", "legendX": 17, "legendY": 107, "padding": 0, "labelExpr": "datum.label=='E' ? 'This work, EPS09NLO' : datum.label=='H' ? 'HKN07 (NLO)' : 'nDS (NLO)'", "symbolType": "M-2,0H2", "symbolSize": 144, "symbolStrokeWidth": 2, "labelFontSize": 13, "labelOffset": 11, "rowPadding": 1}},
     "strokeDash": {"field": "s", "type": "nominal", "scale": {"domain": ["E","H","N"], "range": [[1,0],[1.6,2.2],[9,4]]}, "legend": {"title": null, "orient": "none", "legendX": 17, "legendY": 107, "padding": 0, "labelExpr": "datum.label=='E' ? 'This work, EPS09NLO' : datum.label=='H' ? 'HKN07 (NLO)' : 'nDS (NLO)'", "symbolType": "M-2,0H2", "symbolSize": 144, "symbolStrokeWidth": 2, "labelFontSize": 13, "labelOffset": 11, "rowPadding": 1}},
     "detail": {"field": "g"}}}
  ],
  "resolve": {"axis": {"x": "independent", "y": "independent"}}},
 {"width": 160, "height": 159,
  "layer": [
  {"data": {"name": "bd"}, "transform": [{"filter": "datum.r=='b' && datum.c=='S'"}], "mark": {"type": "area", "color": "#b6d4d4", "clip": true},
   "encoding": {"x": {"field": "x", "type": "quantitative", "scale": {"type": "log", "domain": [0.0001, 1], "nice": false}, "axis": {"orient": "bottom", "values": [0.0001,0.0002,0.0003,0.0004,0.0005,0.0006,0.0007,0.0008,0.0009,0.001,0.002,0.003,0.004,0.005,0.006,0.007,0.008,0.009,0.01,0.02,0.03,0.04,0.05,0.06,0.07,0.08,0.09,0.1,0.2,0.3,0.4,0.5,0.6,0.7,0.8,0.9,1], "labelExpr": "datum.value==0.0001 ? '10⁻⁴' : datum.value==0.001 ? '10⁻³' : datum.value==0.01 ? '10⁻²' : datum.value==0.1 ? '10⁻¹' : ''", "labelOverlap": false, "labelFlush": false, "labelFontSize": 15, "labelPadding": 14, "title": "x", "titleFontStyle": "italic", "titleFontSize": 17, "titleFontWeight": "normal", "titlePadding": 0, "tickSize": {"condition": {"test": "indexof([0.0001,0.001,0.01,0.1,1], datum.value) >= 0", "value": -7}, "value": -4}}},
     "y": {"field": "lo", "type": "quantitative", "scale": {"domain": [0, 1.5], "nice": false, "zero": false}, "axis": {"orient": "left", "values": [0,0.1,0.2,0.3,0.4,0.5,0.6,0.7,0.8,0.9,1,1.1,1.2,1.3,1.4,1.5], "tickSize": -6, "labels": false, "title": null}},
     "y2": {"field": "hi"}}},
  {"data": {"values": [{"ref": 1}]}, "mark": {"type": "rule", "color": "#8a8a8a", "strokeDash": [1, 2.5], "strokeWidth": 1}, "encoding": {"y": {"field": "ref", "type": "quantitative", "axis": null}}},
  {"data": {"name": "cur"}, "transform": [{"filter": "datum.r=='b' && datum.c=='S'"}], "mark": {"type": "line", "clip": true, "strokeWidth": 1.8},
   "encoding": {"x": {"field": "x", "type": "quantitative", "axis": {"orient": "top", "values": [0.0001,0.0002,0.0003,0.0004,0.0005,0.0006,0.0007,0.0008,0.0009,0.001,0.002,0.003,0.004,0.005,0.006,0.007,0.008,0.009,0.01,0.02,0.03,0.04,0.05,0.06,0.07,0.08,0.09,0.1,0.2,0.3,0.4,0.5,0.6,0.7,0.8,0.9,1], "labels": false, "tickSize": {"condition": {"test": "indexof([0.0001,0.001,0.01,0.1,1], datum.value) >= 0", "value": -7}, "value": -4}, "title": null}},
     "y": {"field": "y", "type": "quantitative", "axis": {"orient": "right", "values": [0,0.1,0.2,0.3,0.4,0.5,0.6,0.7,0.8,0.9,1,1.1,1.2,1.3,1.4,1.5], "labels": false, "tickSize": -6, "title": null}},
     "color": {"field": "s", "type": "nominal", "scale": {"domain": ["E","H","N"], "range": ["#000000","#e3262a","#2f5634"]}, "legend": null},
     "strokeDash": {"field": "s", "type": "nominal", "scale": {"domain": ["E","H","N"], "range": [[1,0],[1.6,2.2],[9,4]]}, "legend": null},
     "detail": {"field": "g"}}},
  {"data": {"values": [{"label": "Q²=100 GeV²"}]}, "mark": {"type": "text", "align": "left", "baseline": "middle", "fontSize": 12},
   "encoding": {"text": {"field": "label"}, "x": {"datum": 0.00067, "type": "quantitative", "axis": null}, "y": {"datum": 1.24, "type": "quantitative", "axis": null}}}
  ],
  "resolve": {"axis": {"x": "independent", "y": "independent"}}},
 {"width": 160, "height": 159,
  "layer": [
  {"data": {"name": "bd"}, "transform": [{"filter": "datum.r=='b' && datum.c=='G'"}], "mark": {"type": "area", "color": "#b6d4d4", "clip": true},
   "encoding": {"x": {"field": "x", "type": "quantitative", "scale": {"type": "log", "domain": [0.0001, 1], "nice": false}, "axis": {"orient": "bottom", "values": [0.0001,0.0002,0.0003,0.0004,0.0005,0.0006,0.0007,0.0008,0.0009,0.001,0.002,0.003,0.004,0.005,0.006,0.007,0.008,0.009,0.01,0.02,0.03,0.04,0.05,0.06,0.07,0.08,0.09,0.1,0.2,0.3,0.4,0.5,0.6,0.7,0.8,0.9,1], "labelExpr": "datum.value==0.0001 ? '10⁻⁴' : datum.value==0.001 ? '10⁻³' : datum.value==0.01 ? '10⁻²' : datum.value==0.1 ? '10⁻¹' : datum.value==1 ? '1' : ''", "labelOverlap": false, "labelFlush": false, "labelFontSize": 15, "labelPadding": 14, "title": "x", "titleFontStyle": "italic", "titleFontSize": 17, "titleFontWeight": "normal", "titlePadding": 0, "tickSize": {"condition": {"test": "indexof([0.0001,0.001,0.01,0.1,1], datum.value) >= 0", "value": -7}, "value": -4}}},
     "y": {"field": "lo", "type": "quantitative", "scale": {"domain": [0, 1.5], "nice": false, "zero": false}, "axis": {"orient": "left", "values": [0,0.1,0.2,0.3,0.4,0.5,0.6,0.7,0.8,0.9,1,1.1,1.2,1.3,1.4,1.5], "tickSize": -6, "labels": false, "title": null}},
     "y2": {"field": "hi"}}},
  {"data": {"values": [{"ref": 1}]}, "mark": {"type": "rule", "color": "#8a8a8a", "strokeDash": [1, 2.5], "strokeWidth": 1}, "encoding": {"y": {"field": "ref", "type": "quantitative", "axis": null}}},
  {"data": {"name": "cur"}, "transform": [{"filter": "datum.r=='b' && datum.c=='G'"}], "mark": {"type": "line", "clip": true, "strokeWidth": 1.8},
   "encoding": {"x": {"field": "x", "type": "quantitative", "axis": {"orient": "top", "values": [0.0001,0.0002,0.0003,0.0004,0.0005,0.0006,0.0007,0.0008,0.0009,0.001,0.002,0.003,0.004,0.005,0.006,0.007,0.008,0.009,0.01,0.02,0.03,0.04,0.05,0.06,0.07,0.08,0.09,0.1,0.2,0.3,0.4,0.5,0.6,0.7,0.8,0.9,1], "labels": false, "tickSize": {"condition": {"test": "indexof([0.0001,0.001,0.01,0.1,1], datum.value) >= 0", "value": -7}, "value": -4}, "title": null}},
     "y": {"field": "y", "type": "quantitative", "axis": {"orient": "right", "values": [0,0.1,0.2,0.3,0.4,0.5,0.6,0.7,0.8,0.9,1,1.1,1.2,1.3,1.4,1.5], "labels": false, "tickSize": -6, "title": null}},
     "color": {"field": "s", "type": "nominal", "scale": {"domain": ["E","H","N"], "range": ["#000000","#e3262a","#2f5634"]}, "legend": null},
     "strokeDash": {"field": "s", "type": "nominal", "scale": {"domain": ["E","H","N"], "range": [[1,0],[1.6,2.2],[9,4]]}, "legend": null},
     "detail": {"field": "g"}}}
  ],
  "resolve": {"axis": {"x": "independent", "y": "independent"}}}
]
}
